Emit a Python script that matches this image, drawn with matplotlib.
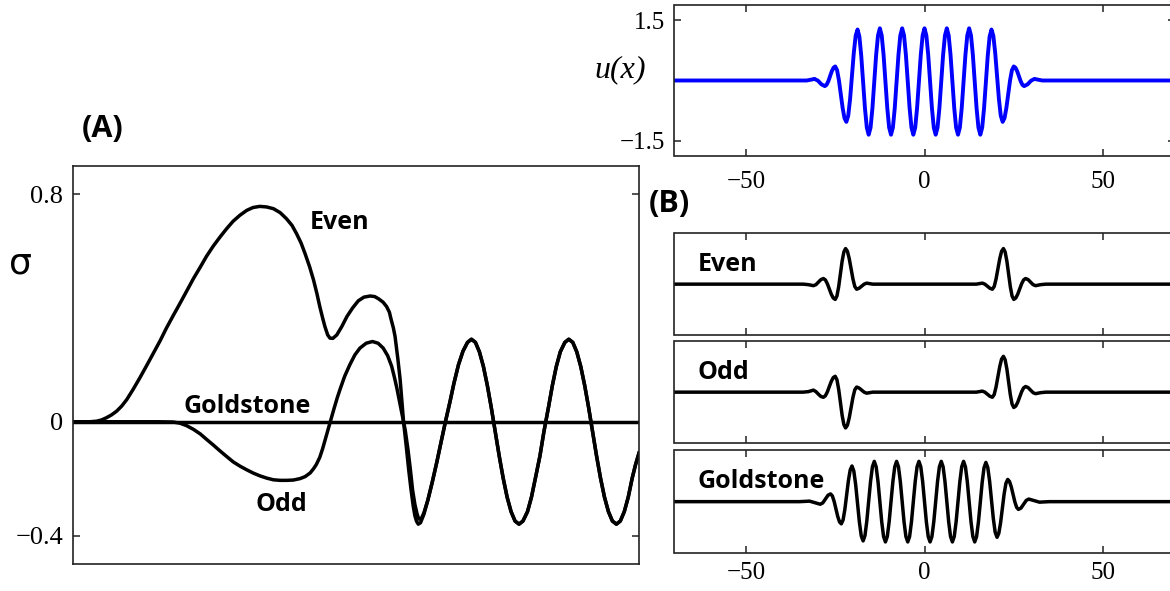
import matplotlib.pyplot as plt

# ---------------- data ----------------
# panel (A): growth rate sigma vs. an unlabelled parameter (x scaled 0..10)
even_x = [0, 0.30, 0.42, 0.50, 0.59, 0.68, 0.77, 0.86, 0.95, 1.06, 1.18, 1.30, 1.42, 1.54,
          1.65, 1.77, 1.89, 2.01, 2.13, 2.25, 2.36, 2.48, 2.60, 2.72, 2.83, 2.95, 3.07, 3.18,
          3.30, 3.42, 3.54, 3.66, 3.77, 3.87, 3.95, 4.03, 4.10, 4.18, 4.25, 4.31, 4.36, 4.41,
          4.45, 4.50, 4.54, 4.59, 4.66, 4.75, 4.84, 4.94, 5.04, 5.14, 5.25, 5.33, 5.40, 5.48,
          5.54, 5.59, 5.62, 5.66, 5.69, 5.74, 5.78, 5.84, 5.89, 5.93, 5.97, 6.01, 6.04, 6.07,
          6.10, 6.14, 6.20]
even_y = [0, 0.0, 0.002, 0.006, 0.014, 0.024, 0.037, 0.055, 0.078, 0.113, 0.154, 0.197, 0.241, 0.285,
          0.329, 0.373, 0.416, 0.460, 0.504, 0.544, 0.582, 0.618, 0.650, 0.680, 0.705, 0.726, 0.743, 0.753,
          0.757, 0.755, 0.749, 0.735, 0.714, 0.690, 0.661, 0.628, 0.591, 0.545, 0.498, 0.450, 0.405, 0.365,
          0.335, 0.305, 0.294, 0.293, 0.305, 0.335, 0.370, 0.400, 0.425, 0.438, 0.442, 0.440, 0.432, 0.420,
          0.405, 0.385, 0.36, 0.33, 0.30, 0.22, 0.148, 0.0, -0.09, -0.167, -0.235, -0.295, -0.33, -0.35,
          -0.36, -0.355, -0.325]

odd_x = [0, 1.50, 1.77, 1.89, 2.01, 2.13, 2.25, 2.36, 2.48, 2.60, 2.72, 2.83, 2.95, 3.07,
         3.18, 3.30, 3.42, 3.54, 3.66, 3.77, 3.89, 4.01, 4.10, 4.19, 4.25, 4.30, 4.36, 4.41,
         4.46, 4.51, 4.56, 4.61, 4.67, 4.72, 4.80, 4.89, 4.98, 5.07, 5.18, 5.29, 5.39, 5.48,
         5.56, 5.63, 5.68, 5.72, 5.77, 5.82, 5.87, 5.92, 5.96, 6.00, 6.04, 6.08, 6.11, 6.15,
         6.20]
odd_y = [0, 0, -0.001, -0.005, -0.014, -0.027, -0.043, -0.062, -0.082, -0.103, -0.123, -0.141, -0.156, -0.169,
         -0.180, -0.190, -0.198, -0.204, -0.206, -0.206, -0.205, -0.200, -0.193, -0.180, -0.165, -0.15, -0.125, -0.095,
         -0.06, -0.025, 0.01, 0.045, 0.085, 0.115, 0.16, 0.20, 0.235, 0.259, 0.276, 0.282, 0.276, 0.259,
         0.232, 0.195, 0.155, 0.12, 0.07, 0.02, -0.03, -0.10, -0.167, -0.24, -0.29, -0.325, -0.342, -0.342,
         -0.32]

# both branches run together after x ~ 6.25
tail_x = [6.27, 6.35, 6.43, 6.51, 6.58, 6.66, 6.73, 6.81, 6.89, 6.97, 7.04, 7.11, 7.18, 7.25,
          7.32, 7.39, 7.46, 7.53, 7.60, 7.67, 7.74, 7.81, 7.88, 7.95, 8.03, 8.10, 8.17, 8.25,
          8.32, 8.40, 8.47, 8.54, 8.61, 8.69, 8.76, 8.83, 8.90, 8.97, 9.04, 9.11, 9.18, 9.25,
          9.32, 9.39, 9.46, 9.53, 9.60, 9.67, 9.74, 9.81, 9.88, 9.94, 10.0]
tail_y = [-0.275, -0.21, -0.14, -0.065, 0.0, 0.07, 0.135, 0.20, 0.248, 0.279, 0.29, 0.279, 0.246, 0.195,
          0.128, 0.05, -0.035, -0.12, -0.198, -0.265, -0.316, -0.349, -0.36, -0.349, -0.316, -0.265, -0.198, -0.12,
          -0.035, 0.05, 0.128, 0.195, 0.246, 0.279, 0.29, 0.279, 0.246, 0.195, 0.128, 0.05, -0.035, -0.12,
          -0.198, -0.265, -0.316, -0.349, -0.36, -0.349, -0.316, -0.265, -0.198, -0.15, -0.11]

gold_a_x = [0, 10]
gold_a_y = [0, 0]

# panel (B) top: pattern u(x)
u_x = [-70, -33, -31.8, -30.8, -29.83, -29.35, -28.87, -27.9, -27.42, -26.93, -26.45, -25.97,
       -25.48, -25.0, -24.48, -23.96, -23.44, -22.92, -22.4,
       -21.88, -21.35, -20.83, -20.31, -19.79, -19.27, -18.75, -18.23, -17.71, -17.19, -16.67, -16.15,
       -15.63, -15.10, -14.58, -14.06, -13.54, -13.02, -12.5, -11.98, -11.46, -10.94, -10.42, -9.90,
       -9.38, -8.85, -8.33, -7.81, -7.29, -6.77, -6.25, -5.73, -5.21, -4.69, -4.17, -3.65,
       -3.13, -2.60, -2.08, -1.56, -1.04, -0.52, 0, 0.52, 1.04, 1.56, 2.08, 2.60,
       3.13, 3.65, 4.17, 4.69, 5.21, 5.73, 6.25, 6.77, 7.29, 7.81, 8.33, 8.85,
       9.38, 9.90, 10.42, 10.94, 11.46, 11.98, 12.5, 13.02, 13.54, 14.06, 14.58, 15.10,
       15.63, 16.15, 16.67, 17.19, 17.71, 18.23, 18.75, 19.27, 19.79, 20.31, 20.83, 21.35, 21.88,
       22.4, 22.92, 23.44, 23.96, 24.48, 25.0, 25.48, 25.97, 26.45, 26.93, 27.42, 27.9,
       28.87, 29.35, 29.83, 30.8, 31.8, 33, 70]
u_y = [0, 0, 0.02, 0.04, -0.005, -0.05, -0.095, -0.14, -0.107, -0.018, 0.105, 0.228,
       0.317, 0.35, 0.258, 0.005, -0.34, -0.685, -0.938,
       -1.03, -0.876, -0.455, 0.12, 0.695, 1.116, 1.27, 1.094, 0.615, -0.04, -0.695, -1.174,
       -1.35, -1.172, -0.688, -0.025, 0.638, 1.122, 1.3, 1.122, 0.638, -0.025, -0.688, -1.172,
       -1.35, -1.172, -0.688, -0.025, 0.638, 1.122, 1.3, 1.122, 0.638, -0.025, -0.688, -1.172,
       -1.35, -1.172, -0.688, -0.025, 0.638, 1.122, 1.3, 1.122, 0.638, -0.025, -0.688, -1.172,
       -1.35, -1.172, -0.688, -0.025, 0.638, 1.122, 1.3, 1.122, 0.638, -0.025, -0.688, -1.172,
       -1.35, -1.172, -0.688, -0.025, 0.638, 1.122, 1.3, 1.122, 0.638, -0.025, -0.688, -1.172,
       -1.35, -1.174, -0.695, -0.04, 0.615, 1.094, 1.27, 1.116, 0.695, 0.12, -0.455, -0.876, -1.03,
       -0.938, -0.685, -0.34, 0.005, 0.258, 0.35, 0.317, 0.228, 0.105, -0.018, -0.107, -0.14,
       -0.095, -0.05, -0.005, 0.04, 0.02, 0, 0]

# panel (B) eigenfunctions, arbitrary units on a -1..1 axis
ev_x = [-70, -34, -32.5, -31.1, -30.4, -29.7, -29.0, -28.3, -27.75, -27.2, -26.65, -26.1,
        -25.55, -25.0, -24.52, -24.03, -23.55, -23.07, -22.58, -22.1, -21.58, -21.07, -20.55, -20.03,
        -19.52, -19.0, -18.3, -17.6, -16.9, -16.2, -14.5,
        14.5, 16.2, 16.9, 17.6, 18.3, 19.0, 19.52, 20.03, 20.55, 21.07, 21.58, 22.1,
        22.58, 23.07, 23.55, 24.03, 24.52, 25.0, 25.55, 26.1, 26.65, 27.2, 27.75, 28.3,
        29.0, 29.7, 30.4, 31.1, 32.5, 34, 70]
ev_y = [0, 0, -0.01, -0.03, -0.01, 0.04, 0.09, 0.11, 0.083, 0.008, -0.095, -0.198,
        -0.273, -0.30, -0.233, -0.05, 0.20, 0.45, 0.633, 0.70, 0.646, 0.50, 0.30, 0.10,
        -0.046, -0.10, -0.08, -0.04, 0.0, 0.02, 0,
        0, 0.02, 0.0, -0.04, -0.08, -0.10, -0.046, 0.10, 0.30, 0.50, 0.646, 0.70,
        0.633, 0.45, 0.20, -0.05, -0.233, -0.30, -0.273, -0.198, -0.095, 0.008, 0.083, 0.11,
        0.09, 0.04, -0.01, -0.03, -0.01, 0, 0]

od_x = ev_x
od_y = [0, 0, 0.01, 0.04, 0.01, -0.04, -0.085, -0.10, -0.07, 0.005, 0.11, 0.21,
        0.285, 0.31, 0.243, 0.055, -0.195, -0.45, -0.633, -0.70, -0.646, -0.50, -0.30, -0.10,
        0.046, 0.10, 0.08, 0.04, 0.0, -0.02, 0,
        0, 0.02, 0.0, -0.04, -0.08, -0.10, -0.046, 0.10, 0.30, 0.50, 0.646, 0.70,
        0.633, 0.45, 0.20, -0.05, -0.233, -0.30, -0.273, -0.198, -0.095, 0.008, 0.083, 0.11,
        0.09, 0.04, -0.01, -0.03, -0.01, 0, 0]

gs_x = [-70, -35, -33.5, -32.2, -30.7, -29.2, -28.5, -27.75, -27.0, -26.3, -25.8, -25.3,
        -24.8, -24.3, -23.8, -23.3, -22.8, -22.3, -21.8, -21.3, -20.8,
        -20.31, -19.79, -19.27, -18.75, -18.23, -17.71, -17.19, -16.67, -16.15, -15.63, -15.10, -14.58,
        -14.06, -13.54, -13.02, -12.5, -11.98, -11.46, -10.94, -10.42, -9.90, -9.38, -8.85, -8.33,
        -7.81, -7.29, -6.77, -6.25, -5.73, -5.21, -4.69, -4.17, -3.65, -3.13, -2.60, -2.08,
        -1.56, -1.04, -0.52, 0, 0.52, 1.04, 1.56, 2.08, 2.60, 3.13, 3.65, 4.17,
        4.69, 5.21, 5.73, 6.25, 6.77, 7.29, 7.81, 8.33, 8.85, 9.38, 9.90, 10.42,
        10.94, 11.46, 11.98, 12.5, 13.02, 13.54, 14.06, 14.58, 15.10, 15.63, 16.15, 16.67,
        17.19, 17.71, 18.23, 18.75, 19.27, 19.79, 20.31,
        20.8, 21.3, 21.8, 22.3, 22.8, 23.3, 23.8, 24.3, 24.8, 25.3, 25.8, 26.3,
        27.0, 27.75, 28.5, 29.2, 30.7, 32.2, 33.5, 35, 70]
gs_y = [0, 0, 0.005, 0.01, -0.02, -0.05, -0.025, 0.05, 0.125, 0.15, 0.111, 0.005,
        -0.14, -0.285, -0.391, -0.43, -0.355, -0.15, 0.13, 0.41, 0.615,
        0.69, 0.593, 0.328, -0.035, -0.398, -0.663, -0.76, -0.657, -0.375, 0.01, 0.395, 0.677,
        0.78, 0.675, 0.39, 0, -0.39, -0.675, -0.78, -0.675, -0.39, 0, 0.39, 0.675,
        0.78, 0.675, 0.39, 0, -0.39, -0.675, -0.78, -0.675, -0.39, 0, 0.39, 0.675,
        0.78, 0.675, 0.39, 0, -0.39, -0.675, -0.78, -0.675, -0.39, 0, 0.39, 0.675,
        0.78, 0.675, 0.39, 0, -0.39, -0.675, -0.78, -0.675, -0.39, 0, 0.39, 0.675,
        0.78, 0.675, 0.39, 0, -0.39, -0.675, -0.78, -0.677, -0.395, -0.01, 0.375, 0.657,
        0.76, 0.663, 0.398, 0.035, -0.328, -0.593, -0.69,
        -0.615, -0.41, -0.13, 0.15, 0.355, 0.43, 0.391, 0.285, 0.14, -0.005, -0.111, -0.15,
        -0.125, -0.05, 0.025, 0.05, 0.02, -0.01, -0.005, 0, 0]

b_ticks = [-50, 0, 50]

# ---------------- layout ----------------
W, H = 1170, 591
fig = plt.figure(figsize=(W / 100, H / 100), dpi=100)

label_font = dict(family='Open Sans', weight='bold', size=18)
tick_font = 'Liberation Serif'
frame_col = '#222222'


def rect(left, top, right, bottom):
    # pixel box -> figure fraction
    return [left / W, 1 - bottom / H, (right - left) / W, (bottom - top) / H]


def style_frame(ax):
    for s in ax.spines.values():
        s.set_linewidth(1.2)
        s.set_color(frame_col)
    ax.tick_params(direction='in', length=5, width=1.1, color=frame_col,
                   top=True, right=True, labelsize=18)
    for lab in ax.get_xticklabels() + ax.get_yticklabels():
        lab.set_family(tick_font)


# ---- panel A ----
axA = fig.add_axes(rect(73, 165.7, 639, 564))
axA.plot(even_x + tail_x, even_y + tail_y, color='k', lw=2.5)
axA.plot(odd_x + tail_x, odd_y + tail_y, color='k', lw=2.5)
axA.plot(gold_a_x, gold_a_y, color='k', lw=2.5)
axA.set_xlim(0, 10)
axA.set_ylim(-0.5, 0.9)
axA.set_xticks([])
axA.set_yticks([0.8, 0, -0.4])
axA.set_yticklabels(['0.8', '0', '\u22120.4'])
style_frame(axA)
axA.tick_params(axis='y', pad=7, labelsize=19)
for lab in axA.get_yticklabels():
    lab.set_family(tick_font)
axA.text(4.19, 0.679, 'Even', ha='left', va='baseline', **label_font)
axA.text(1.96, 0.029, 'Goldstone', ha='left', va='baseline', **label_font)
axA.text(3.22, -0.313, 'Odd', ha='left', va='baseline', **label_font)

fig.text(20 / W, 1 - 264 / H, '\u03c3', ha='center', va='center',
         fontsize=26, family='DejaVu Sans')
fig.text(82 / W, 1 - 137 / H, '(A)', ha='left', va='baseline',
         family='Open Sans', weight='bold', size=22)
fig.text(649 / W, 1 - 212 / H, '(B)', ha='left', va='baseline',
         family='Open Sans', weight='bold', size=22)

# ---- panel B top ----
axU = fig.add_axes(rect(674.5, 5, 1174.5, 156))
axU.plot(u_x, u_y, color='#0000ff', lw=2.8)
axU.set_xlim(-70, 70)
axU.set_ylim(-1.88, 1.88)
axU.set_xticks(b_ticks)
axU.set_xticklabels(['\u221250', '0', '50'])
axU.set_yticks([-1.5, 1.5])
axU.set_yticklabels(['\u22121.5', '1.5'])
style_frame(axU)
axU.tick_params(axis='x', pad=11)
axU.tick_params(axis='y', pad=7)
fig.text(620 / W, 1 - 70 / H, 'u(x)', ha='center', va='center', fontsize=23,
         family='Liberation Serif', style='italic')

# ---- panel B eigenfunctions ----
boxes = [(233.3, 335), (341, 443.3), (450, 553.3)]
series = [(ev_x, ev_y, 'Even'), (od_x, od_y, 'Odd'), (gs_x, gs_y, 'Goldstone')]
for i, ((top, bot), (sx, sy, name)) in enumerate(zip(boxes, series)):
    ax = fig.add_axes(rect(674.5, top, 1174.5, bot))
    ax.plot(sx, sy, color='k', lw=2.5)
    ax.set_xlim(-70, 70)
    ax.set_ylim(-1, 1)
    ax.set_yticks([])
    ax.set_xticks(b_ticks)
    if i < 2:
        ax.set_xticklabels([])
    else:
        ax.set_xticklabels(['\u221250', '0', '50'])
    style_frame(ax)
    ax.tick_params(axis='x', pad=6)
    ax.text(-63.5, 0.26, name, ha='left', va='baseline', **label_font)

fig.savefig('out.png', dpi=100)
